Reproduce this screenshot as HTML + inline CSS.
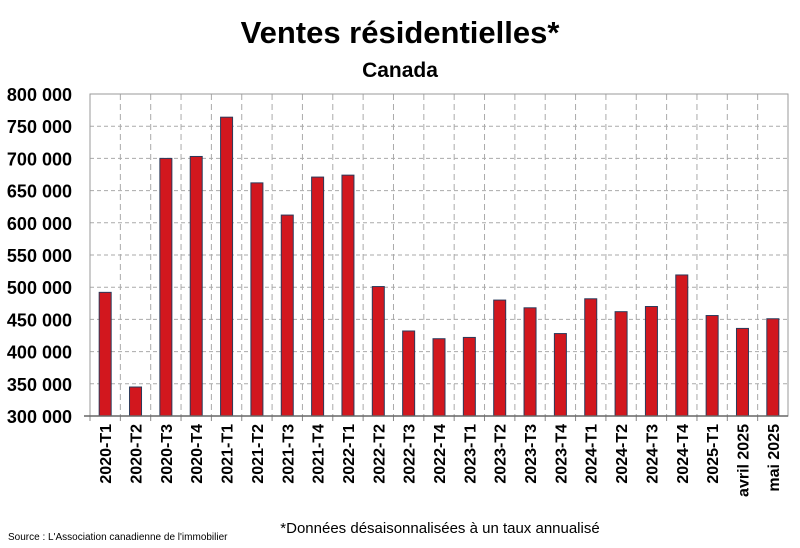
<!DOCTYPE html>
<html><head><meta charset="utf-8"><style>
body{margin:0;background:#fff;}
svg{display:block;font-family:"Liberation Sans",sans-serif;}
</style></head><body>
<svg id="c" width="800" height="548">
<text x="400" y="43" text-anchor="middle" font-size="31" font-weight="bold">Ventes résidentielles*</text>
<text x="400" y="77" text-anchor="middle" font-size="21" font-weight="bold">Canada</text>
<text x="8" y="540" font-size="10">Source : L'Association canadienne de l'immobilier</text>
<text x="440" y="533" text-anchor="middle" font-size="15">*Données désaisonnalisées à un taux annualisé</text>
<g id="grid"></g><g id="bars"></g><g id="axes"></g>
</svg>
<script>
const categories=["2020-T1","2020-T2","2020-T3","2020-T4","2021-T1","2021-T2","2021-T3","2021-T4","2022-T1","2022-T2","2022-T3","2022-T4","2023-T1","2023-T2","2023-T3","2023-T4","2024-T1","2024-T2","2024-T3","2024-T4","2025-T1","avril 2025","mai 2025"];
const sales=[492000,345000,700000,703000,764000,662000,612000,671000,674000,501000,432000,420000,422000,480000,468000,428000,482000,462000,470000,519000,456000,436000,451000];
const yTicks=[300000,350000,400000,450000,500000,550000,600000,650000,700000,750000,800000];
const yTickLabels=["300 000","350 000","400 000","450 000","500 000","550 000","600 000","650 000","700 000","750 000","800 000"];
const NS="http://www.w3.org/2000/svg";
const L=90,R=788,T=94,B=416,yMin=300000,yMax=800000;
const y=v=>B-(v-yMin)/(yMax-yMin)*(B-T);
const bw=(R-L)/categories.length;
const x=i=>L+i*bw;
function mk(p,tag,a){const e=document.createElementNS(NS,tag);for(const k in a)e.setAttribute(k,a[k]);p.appendChild(e);return e;}
const grid=document.getElementById('grid'),bars=document.getElementById('bars'),axes=document.getElementById('axes');
yTicks.forEach((t,i)=>{
 if(i>0&&i<yTicks.length-1){const g=mk(grid,'line',{x1:L,x2:R,y1:y(t),y2:y(t),stroke:'#aaa','stroke-dasharray':'4,3'});
 
 }
 const tx=mk(axes,'text',{x:72,y:y(t)+7,'text-anchor':'end','font-size':'18','font-weight':'bold'});
 tx.textContent=yTickLabels[i];
 
 
});
categories.forEach((c,i)=>{
 if(i>0){const g=mk(grid,'line',{x1:x(i),x2:x(i),y1:T,y2:B,stroke:'#aaa','stroke-dasharray':'6,4'});
 
 }
 mk(axes,'line',{x1:x(i),x2:x(i),y1:B,y2:B+5,stroke:'#888'});
 const cx=x(i)+bw/2;
 const r=mk(bars,'rect',{x:cx-6,y:y(sales[i]),width:12,height:B-y(sales[i]),fill:'#d2171e',stroke:'#2b3a5a','stroke-width':'1'});
 
 
 const tx=mk(axes,'text',{transform:`translate(${cx+6},424) rotate(-90)`,'text-anchor':'end','font-size':'16','font-weight':'bold'});
 tx.textContent=c;
 
 
});
mk(axes,'line',{x1:R,x2:R,y1:B+5,y2:B+5,stroke:'#888'});
mk(axes,'rect',{x:L,y:T,width:R-L,height:B-T,fill:'none',stroke:'#999'});
mk(axes,'line',{x1:L-6,x2:R,y1:B,y2:B,stroke:'#666','stroke-width':'1.5'});
</script>
</body></html>
